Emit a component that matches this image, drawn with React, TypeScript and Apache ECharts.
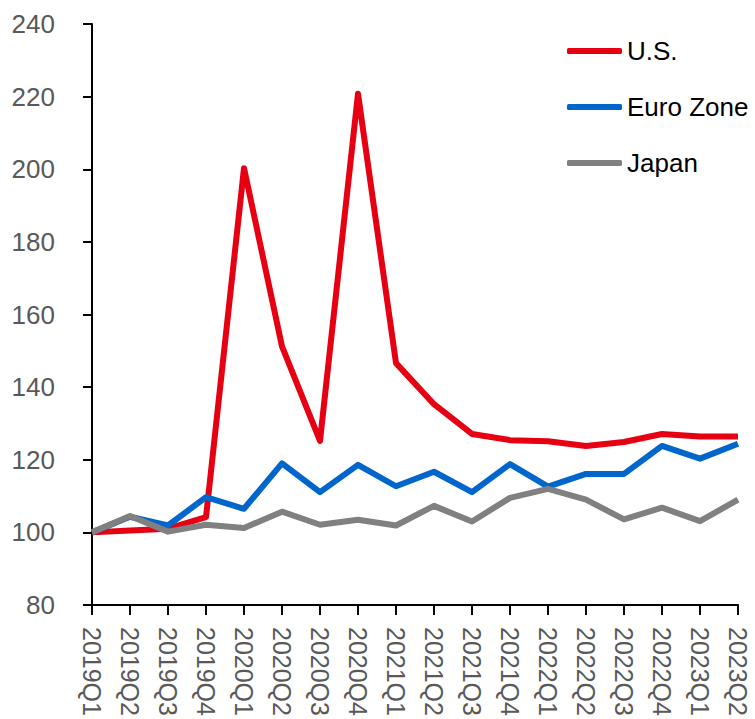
import React, { useEffect, useRef } from "react";
import * as echarts from "echarts";

const categories = [
  "2019Q1", "2019Q2", "2019Q3", "2019Q4",
  "2020Q1", "2020Q2", "2020Q3", "2020Q4",
  "2021Q1", "2021Q2", "2021Q3", "2021Q4",
  "2022Q1", "2022Q2", "2022Q3", "2022Q4",
  "2023Q1", "2023Q2",
];

const usValues = [
  100, 100.5, 101, 104.2,
  200.3, 151.2, 125.2, 220.8,
  146.6, 135.3, 127.1, 125.4,
  125.1, 123.8, 124.9, 127.1,
  126.4, 126.4,
];

const euroValues = [
  100, 104.3, 101.9, 109.7,
  106.5, 119, 111.1, 118.6,
  112.7, 116.7, 111.1, 118.8,
  112.6, 116.1, 116.1, 123.8,
  120.3, 124.4,
];

const japanValues = [
  100, 104.5, 100.2, 102.1,
  101.2, 105.7, 102.1, 103.5,
  101.9, 107.3, 103, 109.5,
  112, 109, 103.6, 106.8,
  103.1, 109,
];

const seriesNames = ["U.S.", "Euro Zone", "Japan"];
const seriesColors = ["#E60012", "#0066CC", "#808080"];

const FONT = '"Liberation Sans Narrow", "Arial Narrow", "Liberation Sans", Arial, sans-serif';

export default function App() {
  const ref = useRef<HTMLDivElement>(null);

  useEffect(() => {
    if (!ref.current) return;
    const chart = echarts.init(ref.current, undefined, { renderer: "svg" });
    const data = [usValues, euroValues, japanValues];
    chart.setOption({
      animation: false,
      backgroundColor: "#ffffff",
      grid: {
        left: 92,
        right: 17,
        top: 24,
        bottom: 114,
        containLabel: false,
        outerBoundsMode: "none",
      },
      legend: {
        orient: "vertical",
        left: 562,
        top: 31,
        itemWidth: 55,
        itemHeight: 6,
        itemGap: 26,
        icon: "roundRect",
        textStyle: { fontFamily: FONT, fontSize: 26, lineHeight: 30, color: "#000000" },
        data: seriesNames,
      },
      xAxis: {
        type: "category",
        data: categories,
        boundaryGap: false,
        axisLine: { show: true, lineStyle: { color: "#000000", width: 2 } },
        axisTick: { show: true, alignWithLabel: true, length: 10, lineStyle: { color: "#000000", width: 2 } },
        axisLabel: {
          rotate: -90,
          margin: 22,
          interval: 0,
          fontFamily: FONT,
          fontSize: 25,
          color: "#595959",
        },
        splitLine: { show: false },
      },
      yAxis: {
        type: "value",
        min: 80,
        max: 240,
        interval: 20,
        axisLine: { show: true, lineStyle: { color: "#000000", width: 2 } },
        axisTick: { show: true, length: 9, lineStyle: { color: "#000000", width: 2 } },
        axisLabel: {
          margin: 37,
          fontFamily: FONT,
          fontSize: 26,
          color: "#595959",
        },
        splitLine: { show: false },
      },
      series: seriesNames.map((name, i) => ({
        name,
        type: "line",
        data: data[i],
        symbol: "none",
        color: seriesColors[i],
        lineStyle: { color: seriesColors[i], width: 6, join: "round" },
        itemStyle: { color: seriesColors[i] },
      })),
    });
    return () => chart.dispose();
  }, []);

  return (
    <div
      ref={ref}
      style={{ position: "absolute", left: 0, top: 0, width: 755, height: 719 }}
    />
  );
}
